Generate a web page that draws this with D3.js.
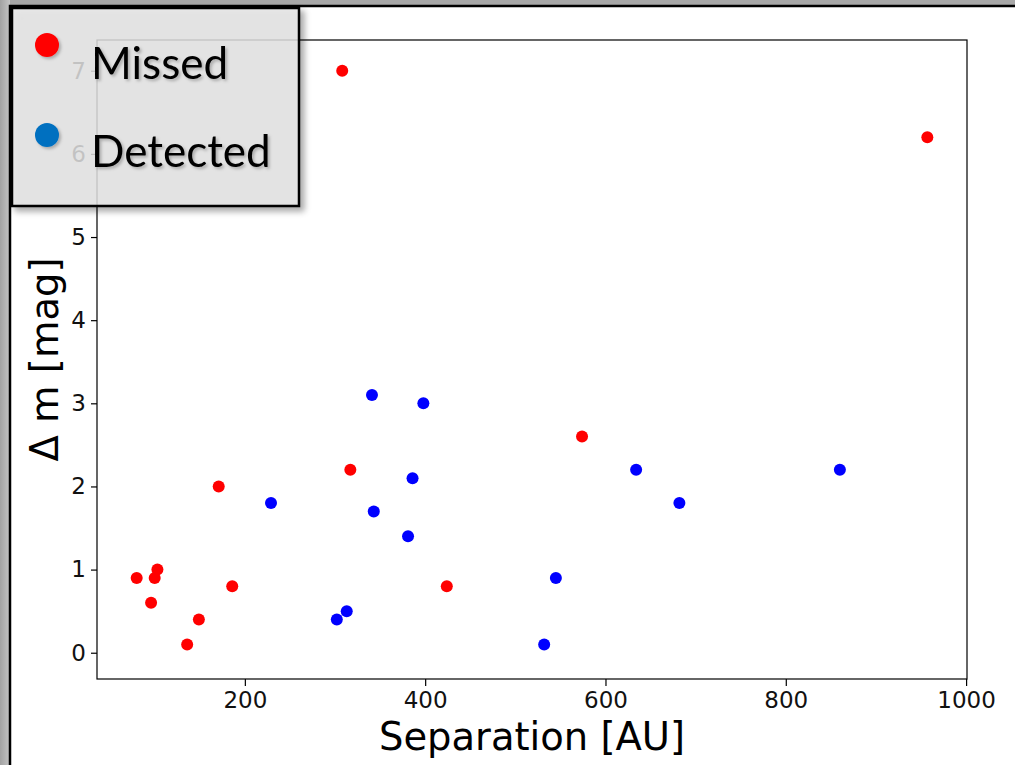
<!DOCTYPE html>
<meta charset="utf-8">
<style>
  body { margin: 0; background: #b4b4b4; }
  svg { display: block; }
  .tick text { font-family: "DejaVu Sans", sans-serif; font-size: 23px; fill: #111; }
  .tick line { stroke: #000; stroke-width: 1.2; }
  .axis-label { font-family: "DejaVu Sans", sans-serif; font-size: 38.5px; fill: #000; }
  .legend-text { font-family: Lato, "Open Sans", sans-serif; font-size: 44px; fill: #000; }
</style>
<body>
<div id="chart"></div>
<script src="https://d3js.org/d3.v7.min.js"></script>
<script>

// data
var missedSep = [80, 96, 100, 103, 136, 149, 171, 186, 308, 317, 424, 574, 957];
var missedDm  = [0.9, 0.6, 0.9, 1.0, 0.1, 0.4, 2.0, 0.8, 7.0, 2.2, 0.8, 2.6, 6.2];
var detectedSep = [229, 302, 313, 341, 343, 381, 386, 398, 532, 545, 634, 682, 860];
var detectedDm  = [1.8, 0.4, 0.5, 3.1, 1.7, 1.4, 2.1, 3.0, 0.1, 0.9, 2.2, 1.8, 2.2];
var xTicks = [200, 400, 600, 800, 1000];
var yTicks = [0, 1, 2, 3, 4, 5, 6, 7];
var legendLabels = ["Missed", "Detected"];
var legendColors = ["#ff0000", "#0070c0"];

var W = 1015, H = 765;
var plot = {left: 97, right: 967, top: 40, bottom: 679};

var svg = d3.select("#chart").append("svg")
  .attr("width", W)
  .attr("height", H);

var defs = svg.append("defs");

// gray frame of the slide
var grad = defs.append("linearGradient").attr("id", "frame").attr("x1", 0).attr("x2", 1);
grad.append("stop").attr("offset", 0).attr("stop-color", "#a2a2a2");
grad.append("stop").attr("offset", 1).attr("stop-color", "#c4c4c4");

var boxShadow = defs.append("filter").attr("id", "boxShadow")
  .attr("x", "-10%").attr("y", "-10%").attr("width", "130%").attr("height", "130%");
boxShadow.append("feDropShadow")
  .attr("dx", 4).attr("dy", 4).attr("stdDeviation", 3)
  .attr("flood-color", "#000").attr("flood-opacity", 0.4);

var textShadow = defs.append("filter").attr("id", "textShadow")
  .attr("x", "-20%").attr("y", "-20%").attr("width", "150%").attr("height", "150%");
textShadow.append("feDropShadow")
  .attr("dx", 2).attr("dy", 2).attr("stdDeviation", 1.8)
  .attr("flood-color", "#000").attr("flood-opacity", 0.25);

svg.append("rect").attr("width", W).attr("height", H).attr("fill", "#a8a8a8");
svg.append("rect").attr("width", 10).attr("height", H).attr("fill", "url(#frame)");
svg.append("rect")
  .attr("x", 10).attr("y", 6)
  .attr("width", W + 10).attr("height", H + 10)
  .attr("fill", "#fff")
  .attr("stroke", "#000")
  .attr("stroke-width", 2.5);

// scales
var x = d3.scaleLinear().domain([36, 1001]).range([plot.left, plot.right]);
var y = d3.scaleLinear().domain([-0.316, 7.37]).range([plot.bottom, plot.top]);

// axes
var gx = svg.append("g")
  .attr("transform", "translate(0," + plot.bottom + ")")
  .call(d3.axisBottom(x).tickValues(xTicks).tickFormat(d3.format("d"))
    .tickSize(7).tickPadding(6).tickSizeOuter(0));
gx.select(".domain").remove();

var gy = svg.append("g")
  .attr("transform", "translate(" + plot.left + ",0)")
  .call(d3.axisLeft(y).tickValues(yTicks).tickFormat(d3.format("d"))
    .tickSize(6).tickPadding(5).tickSizeOuter(0));
gy.select(".domain").remove();

svg.selectAll(".tick text").attr("font-family", null).attr("font-size", null);

// frame of the axes
svg.append("rect")
  .attr("x", plot.left).attr("y", plot.top)
  .attr("width", plot.right - plot.left)
  .attr("height", plot.bottom - plot.top)
  .attr("fill", "none")
  .attr("stroke", "#000")
  .attr("stroke-width", 1.2);

// points
var missed = missedSep.map(function(d, i) { return {sep: d, dm: missedDm[i]}; });
var detected = detectedSep.map(function(d, i) { return {sep: d, dm: detectedDm[i]}; });

svg.append("g").selectAll("circle")
  .data(missed)
  .enter().append("circle")
  .attr("cx", function(d) { return x(d.sep); })
  .attr("cy", function(d) { return y(d.dm); })
  .attr("r", 6)
  .attr("fill", "#ff0000");

svg.append("g").selectAll("circle")
  .data(detected)
  .enter().append("circle")
  .attr("cx", function(d) { return x(d.sep); })
  .attr("cy", function(d) { return y(d.dm); })
  .attr("r", 6)
  .attr("fill", "#0000ff");

// axis labels
svg.append("text")
  .attr("class", "axis-label")
  .attr("x", (plot.left + plot.right) / 2)
  .attr("y", 750)
  .attr("text-anchor", "middle")
  .text("Separation [AU]");

svg.append("text")
  .attr("class", "axis-label")
  .attr("transform", "translate(58," + ((plot.top + plot.bottom) / 2) + ") rotate(-90)")
  .attr("text-anchor", "middle")
  .text("Δ m [mag]");

// legend box laid over the chart
var legend = svg.append("g");

legend.append("rect")
  .attr("x", 12).attr("y", 8)
  .attr("width", 287).attr("height", 198)
  .attr("fill", "#e6e6e6")
  .attr("fill-opacity", 0.8)
  .attr("stroke", "#000")
  .attr("stroke-width", 2.5)
  .attr("filter", "url(#boxShadow)");

var items = legend.selectAll(".item")
  .data(legendLabels)
  .enter().append("g")
  .attr("filter", "url(#textShadow)");

items.append("circle")
  .attr("cx", 47)
  .attr("cy", function(d, i) { return 45 + i * 90; })
  .attr("r", 12)
  .attr("fill", function(d, i) { return legendColors[i]; });

items.append("text")
  .attr("class", "legend-text")
  .attr("x", 91)
  .attr("y", function(d, i) { return 79 + i * 88; })
  .text(function(d) { return d; });

</script>
</body>
